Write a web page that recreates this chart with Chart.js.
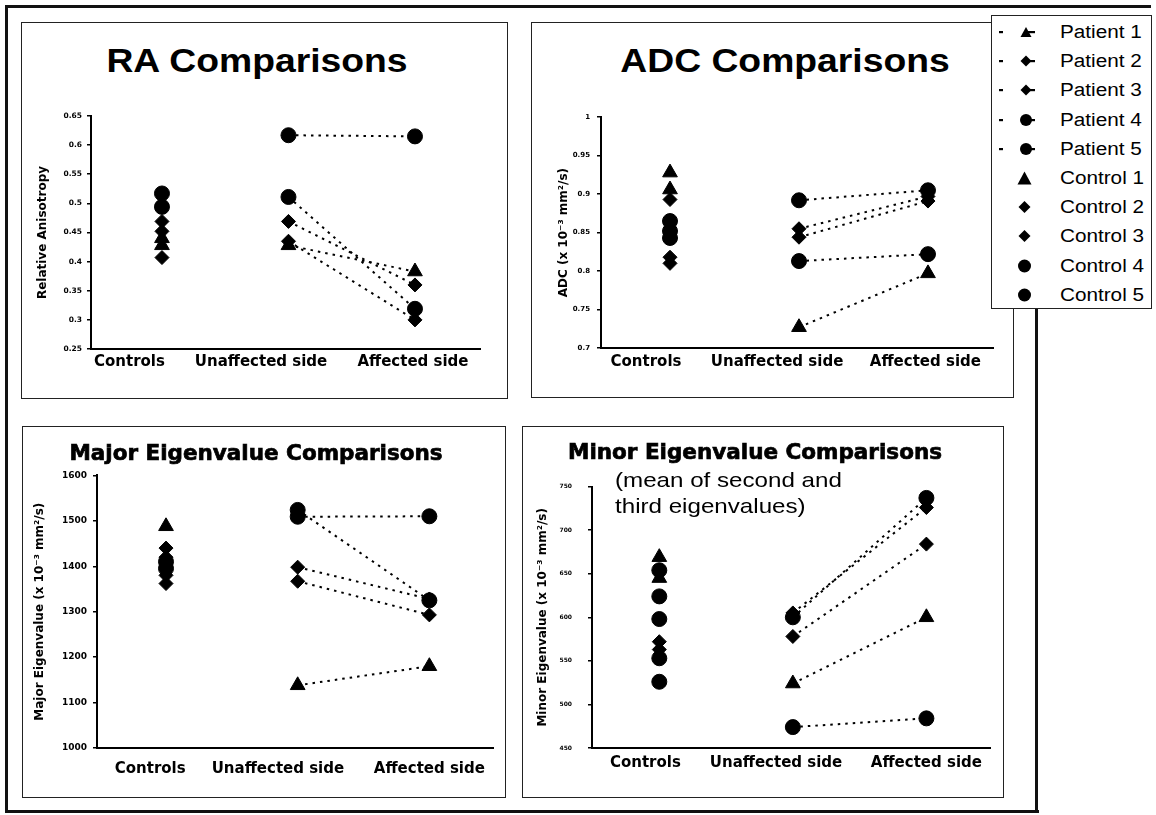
<!DOCTYPE html>
<html><head><meta charset="utf-8">
<script src="https://cdn.jsdelivr.net/npm/chart.js@4.4.1/dist/chart.umd.min.js"></script>
<style>
html,body{margin:0;padding:0;background:#fff;}
#stage{position:relative;width:1156px;height:815px;overflow:hidden;background:#fff;}
.ln{position:absolute;background:#111;}
.panel{position:absolute;border:1px solid #222;box-sizing:border-box;background:#fff;}
canvas{position:absolute;}
.t{position:absolute;white-space:nowrap;line-height:1;color:#000;}
.big{font-family:"Liberation Sans",Arial,sans-serif;font-weight:bold;font-size:33px;transform:translate(-50%,-50%) scaleX(1.13);}
.heavy{font-family:"DejaVu Sans",sans-serif;font-weight:bold;font-size:21.5px;-webkit-text-stroke:0.7px #000;transform:translate(-50%,-50%);}
.note{font-family:"Liberation Sans",Arial,sans-serif;font-size:21px;transform-origin:0 0;transform:scaleX(1.15);line-height:26px;}
#legend{position:absolute;left:991px;top:15px;width:161px;height:294px;border:1px solid #222;box-sizing:border-box;background:#fff;}
.lrow{position:absolute;left:0;height:20px;width:160px;}
.lrow svg{position:absolute;left:1px;top:0;}
.lrow span{position:absolute;left:68px;top:1px;font-family:"Liberation Sans",Arial,sans-serif;font-size:18px;line-height:18px;transform-origin:0 50%;transform:scaleX(1.15);white-space:nowrap;}
</style>
</head>
<body>
<div id="stage">
  <div class="panel" style="left:21px;top:22px;width:487px;height:377px;"></div>
  <div class="panel" style="left:531px;top:22px;width:483px;height:376px;"></div>
  <div class="panel" style="left:22px;top:426px;width:484px;height:372px;"></div>
  <div class="panel" style="left:522px;top:426px;width:482px;height:372px;"></div>

  <canvas id="cRA"></canvas>
  <canvas id="cADC"></canvas>
  <canvas id="cMaj"></canvas>
  <canvas id="cMin"></canvas>

  <div class="t big" style="left:257px;top:60px;">RA Comparisons</div>
  <div class="t big" style="left:785px;top:60px;">ADC Comparisons</div>
  <div class="t heavy" style="left:256px;top:453px;">Major Eigenvalue Comparisons</div>
  <div class="t heavy" style="left:755px;top:452px;">Minor Eigenvalue Comparisons</div>
  <div class="t note" style="left:615px;top:467px;">(mean of second and<br>third eigenvalues)</div>

  <div class="ln" style="left:5px;top:5px;width:1146px;height:3px;"></div>
  <div class="ln" style="left:5px;top:5px;width:3px;height:808px;"></div>
  <div class="ln" style="left:5px;top:810px;width:1034px;height:3px;"></div>
  <div class="ln" style="left:1035px;top:308px;width:3px;height:505px;"></div>

  <div id="legend"></div>
</div>
<script>
// ---------- data ----------
const categories = ['Controls', 'Unaffected side', 'Affected side'];
const patientNames = ['Patient 1', 'Patient 2', 'Patient 3', 'Patient 4', 'Patient 5'];
const controlNames = ['Control 1', 'Control 2', 'Control 3', 'Control 4', 'Control 5'];
const subjectMarkers = ['triangle', 'rectRot', 'rectRot', 'circle', 'circle'];

// RA
const raTickLabels = ['0.25', '0.3', '0.35', '0.4', '0.45', '0.5', '0.55', '0.6', '0.65'];
const raUnaffected = [0.428, 0.469, 0.435, 0.511, 0.617];
const raAffected = [0.383, 0.360, 0.300, 0.319, 0.615];
const raControls = [[0.440, 0.428], [0.469, 0.452], [0.407], [0.517], [0.494]];

// ADC
const adcTickLabels = ['0.7', '0.75', '0.8', '0.85', '0.9', '0.95', '1'];
const adcUnaffected = [0.727, 0.855, 0.844, 0.813, 0.892];
const adcAffected = [0.797, 0.897, 0.891, 0.822, 0.905];
const adcControls = [[0.928, 0.906], [0.893], [0.818, 0.810], [0.865], [0.852, 0.843]];

// Major eigenvalue
const majTickLabels = ['1000', '1100', '1200', '1300', '1400', '1500', '1600'];
const majUnaffected = [1138, 1398, 1367, 1524, 1509];
const majAffected = [1180, 1328, 1293, 1325, 1510];
const majControls = [[1488], [1440, 1420], [1380, 1362], [1410], [1395]];

// Minor eigenvalue
const minTickLabels = ['450', '500', '550', '600', '650', '700', '750'];
const minUnaffected = [524, 578, 605, 600, 474];
const minAffected = [600, 684, 726, 737, 484];
const minControls = [[669, 645], [572], [563], [654, 624, 598], [553, 526]];

// ---------- layout / style ----------
const markerRadius = { triangle: 8.5, rectRot: 7, circle: 7.5 };
const panels = [
  { id: 'cRA', yTitle: 'Relative Anisotropy', ticks: raTickLabels, controls: raControls, unaff: raUnaffected, aff: raAffected,
    left: 36, top: 106, areaTop: 116, areaBottom: 349, areaRight: 480, right: 490, axisX: 91,
    xMin: 0.439, xMax: 3.514, labelAt: [0.743, 1.783, 2.984], yTickSize: 7.5, yTickPad: 5, xPad: 4 },
  { id: 'cADC', yTitle: 'ADC (x 10\u207B\u00B3 mm\u00B2/s)', ticks: adcTickLabels, controls: adcControls, unaff: adcUnaffected, aff: adcAffected,
    left: 557, top: 106, areaTop: 116, areaBottom: 348, areaRight: 993, right: 1003, axisX: 601,
    xMin: 0.465, xMax: 3.504, labelAt: [0.814, 1.83, 2.98], yTickSize: 7, yTickPad: 7, xPad: 5 },
  { id: 'cMaj', yTitle: 'Major Eigenvalue (x 10\u207B\u00B3 mm\u00B2/s)', ticks: majTickLabels, controls: majControls, unaff: majUnaffected, aff: majAffected,
    left: 33, top: 464, areaTop: 474, areaBottom: 748, areaRight: 499, right: 503, axisX: 97,
    xMin: 0.476, xMax: 3.487, labelAt: [0.88, 1.85, 3.0], yTickSize: 9, yTickPad: 6, xPad: 12 },
  { id: 'cMin', yTitle: 'Minor Eigenvalue (x 10\u207B\u00B3 mm\u00B2/s)', ticks: minTickLabels, controls: minControls, unaff: minUnaffected, aff: minAffected,
    left: 536, top: 467, areaTop: 477, areaBottom: 748, areaRight: 995, right: 1000, axisX: 592,
    xMin: 0.496, xMax: 3.48, labelAt: [0.896, 1.874, 3.0], yTickSize: 6, yTickPad: 16, xPad: 6 }
];
const X_AXIS_H = 40;

function buildChart(p) {
  const cv = document.getElementById(p.id);
  const w = p.right - p.left;
  const h = p.areaBottom + X_AXIS_H - p.top;
  cv.width = w; cv.height = h;
  cv.style.left = p.left + 'px'; cv.style.top = p.top + 'px';
  cv.style.width = w + 'px'; cv.style.height = h + 'px';

  const datasets = [];
  patientNames.forEach((name, i) => {
    const m = subjectMarkers[i];
    datasets.push({
      label: name,
      data: [{ x: 2, y: p.unaff[i] }, { x: 3, y: p.aff[i] }],
      showLine: true, borderColor: '#000', borderWidth: 2, borderDash: [2.5, 5],
      pointStyle: m, pointRadius: markerRadius[m], pointBackgroundColor: '#000', pointBorderColor: '#000', pointBorderWidth: 1,
      pointHoverRadius: markerRadius[m]
    });
  });
  controlNames.forEach((name, i) => {
    const m = subjectMarkers[i];
    datasets.push({
      label: name,
      data: p.controls[i].map(v => ({ x: 1, y: v })),
      showLine: false,
      pointStyle: m, pointRadius: markerRadius[m], pointBackgroundColor: '#000', pointBorderColor: '#000', pointBorderWidth: 1,
      pointHoverRadius: markerRadius[m]
    });
  });

  const tickVals = p.ticks.map(Number);
  new Chart(cv, {
    type: 'scatter',
    data: { datasets },
    options: {
      responsive: false, animation: false, devicePixelRatio: 1,
      events: [],
      layout: { padding: { left: 0, top: p.areaTop - p.top, right: p.right - p.areaRight, bottom: 0 } },
      plugins: { legend: { display: false }, tooltip: { enabled: false } },
      scales: {
        x: {
          type: 'linear', min: p.xMin, max: p.xMax,
          afterBuildTicks: s => { s.ticks = p.labelAt.map(v => ({ value: v })); },
          afterFit: s => { s.height = X_AXIS_H; },
          grid: { display: false, drawTicks: false },
          border: { display: true, color: '#000', width: 2 },
          ticks: {
            autoSkip: false, maxRotation: 0, padding: p.xPad, color: '#000',
            font: { family: 'DejaVu Sans', weight: 'bold', size: 15 },
            callback: (v, i) => categories[i]
          }
        },
        y: {
          type: 'linear', min: tickVals[0], max: tickVals[tickVals.length - 1],
          afterBuildTicks: s => { s.ticks = tickVals.map(v => ({ value: v })); },
          afterFit: s => { s.width = p.axisX - p.left; },
          grid: { display: true, drawOnChartArea: false, drawTicks: true, tickLength: 4, color: '#000', lineWidth: 1.5 },
          border: { display: true, color: '#000', width: 2 },
          ticks: {
            padding: p.yTickPad, color: '#000',
            font: { family: 'DejaVu Sans', weight: 'bold', size: p.yTickSize },
            callback: (v, i) => p.ticks[i]
          },
          title: {
            display: true, text: p.yTitle, color: '#000', padding: 0,
            font: { family: 'DejaVu Sans', weight: 'bold', size: 12 }
          }
        }
      }
    }
  });
}
panels.forEach(buildChart);

// ---------- legend ----------
const legend = document.getElementById('legend');
const legendEntries = patientNames.map((n, i) => ({ name: n, marker: subjectMarkers[i], patient: true }))
  .concat(controlNames.map((n, i) => ({ name: n, marker: subjectMarkers[i], patient: false })));
function markerSvg(m, cx, cy, big) {
  if (m === 'triangle') {
    const hw = big ? 7 : 5.5, hh = big ? 6.5 : 5;
    return `<polygon points="${cx},${cy - hh} ${cx - hw},${cy + hh} ${cx + hw},${cy + hh}" fill="#000"/>`;
  }
  if (m === 'rectRot') {
    const r = big ? 6 : 5.5;
    return `<polygon points="${cx},${cy - r} ${cx + r},${cy} ${cx},${cy + r} ${cx - r},${cy}" fill="#000"/>`;
  }
  return `<circle cx="${cx}" cy="${cy}" r="${big ? 6.5 : 6}" fill="#000"/>`;
}
legendEntries.forEach((e, i) => {
  const row = document.createElement('div');
  row.className = 'lrow';
  row.style.top = (6 + i * 29.2) + 'px';
  let svg = '<svg width="62" height="20" viewBox="0 0 62 20">';
  if (e.patient) {
    svg += '<rect x="6" y="9" width="4" height="2.2" fill="#000"/>';
    svg += '<rect x="33" y="9" width="9" height="2.2" fill="#000"/>';
    svg += markerSvg(e.marker, 33, 10, false);
  } else {
    svg += markerSvg(e.marker, 31.5, 10, true);
  }
  svg += '</svg>';
  row.innerHTML = svg + '<span>' + e.name + '</span>';
  legend.appendChild(row);
});
</script>
</body></html>
